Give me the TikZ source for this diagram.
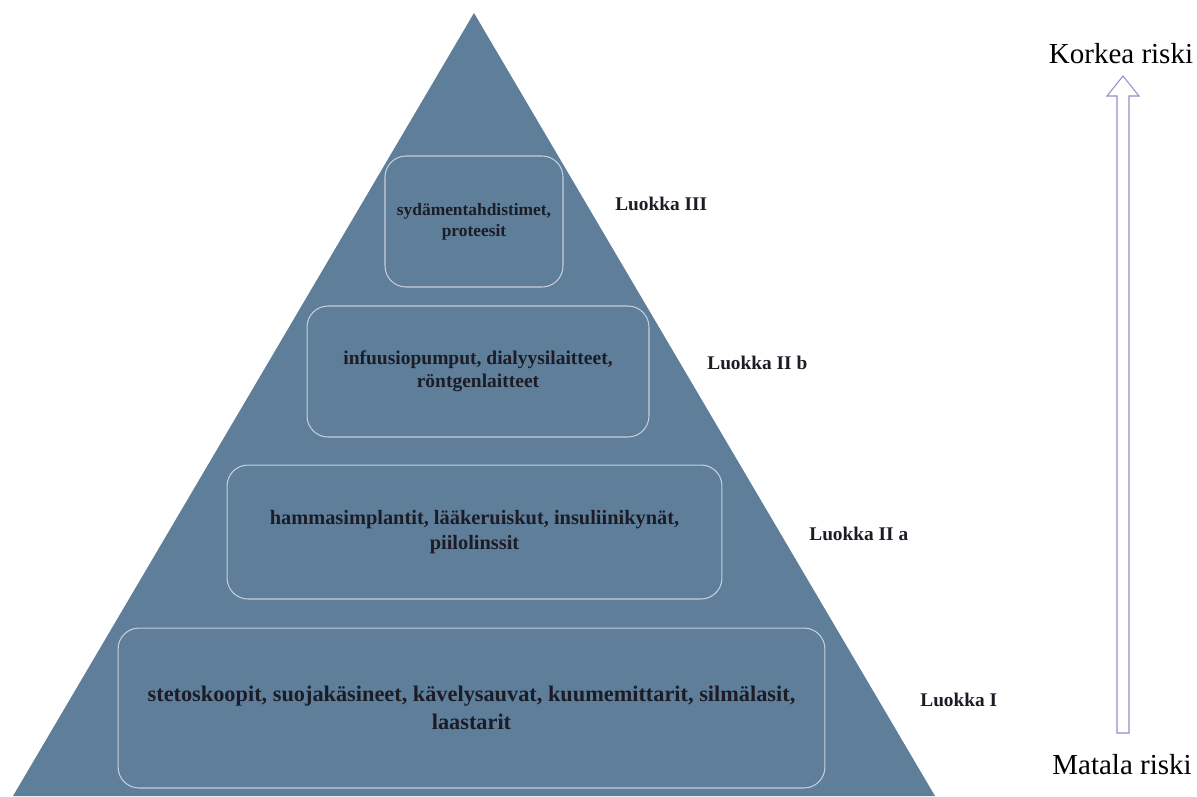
\documentclass[tikz,border=0pt]{standalone}
\usepackage{fontspec}
\setmainfont{Liberation Serif}
\usetikzlibrary{positioning}
\usetikzlibrary{calc}
\definecolor{pyramidblue}{RGB}{94,126,153}
\definecolor{boxline}{RGB}{196,206,220}
\definecolor{darktext}{RGB}{28,28,38}
\definecolor{arrowlilac}{RGB}{150,140,200}
\begin{document}
\begin{tikzpicture}[x=0.02cm,y=-0.02cm,
levelbox/.style={draw=boxline, line width=0.6pt, rounded corners=0.42cm,
  align=center, text=darktext, font=\bfseries, inner sep=0pt},
classlabel/.style={anchor=base west, text=darktext, inner sep=0pt,
  font=\fontsize{11}{13}\selectfont\bfseries},
risklabel/.style={anchor=base, text=black, inner sep=0pt,
  font=\fontsize{16.5}{19}\selectfont},
riskarrow/.style={draw=arrowlilac, line width=0.6pt, fill=white, line join=miter}]
\useasboundingbox (0,0) rectangle (1197,796);
\fill[pyramidblue] (474,13) coordinate (apex) -- (935,796) -- (13,796) -- cycle;
\node[levelbox, minimum width=3.56cm, minimum height=2.62cm,
  font=\fontsize{9.9}{11.9}\selectfont\bfseries] (lvl3) at (474,221.5)
  {sydämentahdistimet,\\proteesit};
\node[levelbox, minimum width=6.84cm, minimum height=2.62cm,
  font=\fontsize{11.1}{13}\selectfont\bfseries] (lvl2b) at (478,371.5)
  {infuusiopumput, dialyysilaitteet,\\röntgenlaitteet};
\node[levelbox, minimum width=9.9cm, minimum height=2.68cm,
  font=\fontsize{11.6}{14.7}\selectfont\bfseries] (lvl2a) at (474.5,532)
  {hammasimplantit, lääkeruiskut, insuliinikynät,\\piilolinssit};
\node[levelbox, minimum width=14.14cm, minimum height=3.2cm,
  font=\fontsize{12.7}{15.9}\selectfont\bfseries] (lvl1) at (471.5,708)
  {stetoskoopit, suojakäsineet, kävelysauvat, kuumemittarit, silmälasit,\\laastarit};
\node[classlabel] (c3) at (615,210) {Luokka III};
\node[classlabel] (c2b) at (707,369) {Luokka II b};
\node[classlabel] (c2a) at (809,540) {Luokka II a};
\node[classlabel] (c1) at (920,706) {Luokka I};
\node[risklabel] (korkea) at (1121,63) {Korkea riski};
\node[risklabel] (matala) at (1122,774) {Matala riski};
\coordinate (highend) at (1123,76);
\coordinate (lowend) at (1123,733);
\draw[riskarrow] ($(lowend)+(-6,0)$) -- ($(highend)+(-6,20)$) -- ($(highend)+(-16,20)$)
  -- (highend) -- ($(highend)+(16,20)$) -- ($(highend)+(6,20)$) -- ($(lowend)+(6,0)$) -- cycle;
\end{tikzpicture}
\end{document}
